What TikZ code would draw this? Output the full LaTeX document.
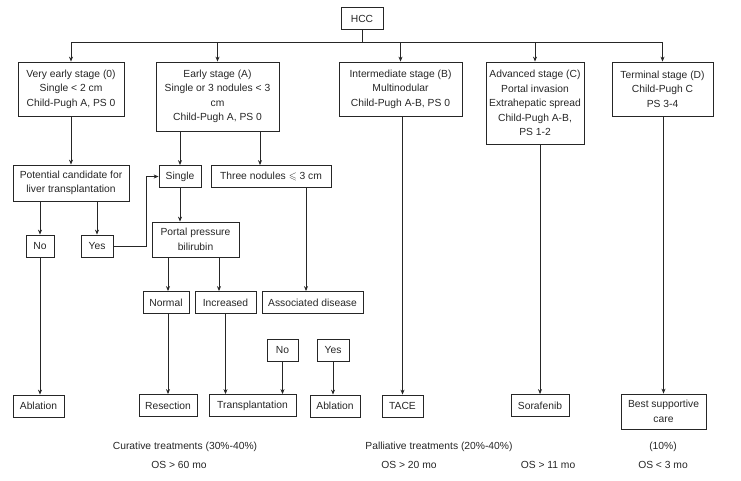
\documentclass[tikz,border=0pt]{standalone}
\usepackage{fontspec}
\usepackage{amssymb}
\setmainfont{Liberation Sans}
\usetikzlibrary{arrows.meta}
\begin{document}
\begin{tikzpicture}[x=1pt, y=-1pt, color=black!85, line width=0.8pt,
        >={Stealth[length=5pt,width=4pt]},
        main/.style = {draw, align=center, font=\fontsize{10.3}{14.4}\selectfont,
            inner xsep=2pt, inner ysep=4pt, minimum height=22pt},
        note/.style = {font=\fontsize{10.3}{14.4}\selectfont}]
        \useasboundingbox (0,0) rectangle (741,480);
        \node[main, minimum width=42pt] (hcc) at (362,18.5) {HCC};
        \node[main, minimum width=106pt, minimum height=54pt] (s0) at (71,89) {Very early stage (0)\\Single < 2 cm\\Child-Pugh A, PS 0};
        \node[main, minimum width=123pt, minimum height=69pt] (sA) at (217.5,96.5) {Early stage (A)\\Single or 3 nodules < 3\\cm\\Child-Pugh A, PS 0};
        \node[main, minimum width=123pt, minimum height=54pt] (sB) at (400.5,89) {Intermediate stage (B)\\Multinodular\\Child-Pugh A-B, PS 0};
        \node[main, minimum width=98pt, minimum height=82pt] (sC) at (535,103) {Advanced stage (C)\\Portal invasion\\Extrahepatic spread\\Child-Pugh A-B,\\PS 1-2};
        \node[main, minimum width=101pt, minimum height=54pt] (sD) at (662.5,89) {Terminal stage (D)\\Child-Pugh C\\PS 3-4};
        \node[main, minimum width=116pt, minimum height=36pt] (cand) at (71,183) {Potential candidate for\\liver transplantation};
        \node[main, minimum width=42pt] (single) at (180,176.5) {Single};
        \node[main, minimum width=120pt] (three) at (271,176.5) {Three nodules $\leqslant$ 3 cm};
        \node[main, minimum width=28pt] (no1) at (40,246) {No};
        \node[main, minimum width=32pt] (yes1) at (97,246) {Yes};
        \node[main, minimum width=87pt, minimum height=35pt] (portal) at (195.5,239.5) {Portal pressure\\bilirubin};
        \node[main, minimum width=46pt] (normal) at (166,302.5) {Normal};
        \node[main, minimum width=61pt] (incr) at (225.5,302.5) {Increased};
        \node[main, minimum width=101pt] (assoc) at (312.5,302.5) {Associated disease};
        \node[main, minimum width=31pt] (no2) at (282.5,350) {No};
        \node[main, minimum width=32pt] (yes2) at (333,350) {Yes};
        \node[main, minimum width=51pt] (abl1) at (38.5,406) {Ablation};
        \node[main, minimum width=58pt] (resec) at (168,405.5) {Resection};
        \node[main, minimum width=87pt] (trans) at (252.5,405.5) {Transplantation};
        \node[main, minimum width=50pt] (abl2) at (335,406) {Ablation};
        \node[main, minimum width=41pt] (tace) at (402.5,406) {TACE};
        \node[main, minimum width=58pt] (sora) at (540,405.5) {Sorafenib};
        \node[main, minimum width=85pt, minimum height=35pt] (bsc) at (663.5,411.5) {Best supportive\\care};
        \node[note] (cur) at (185,447) {Curative treatments (30\%-40\%)};
        \node[note] (os60) at (179,465) {OS > 60 mo};
        \node[note] (pal) at (439,447) {Palliative treatments (20\%-40\%)};
        \node[note] (os20) at (409,465) {OS > 20 mo};
        \node[note] (os11) at (548,465) {OS > 11 mo};
        \node[note] (pct) at (663,447) {(10\%)};
        \node[note] (os3) at (663,465) {OS < 3 mo};
        \coordinate (bus) at (362,42);
        \draw (hcc) -- (bus);
        \draw (bus -| s0) -- (bus -| sD);
        \foreach \s in {s0,sA,sB,sC,sD}
            \draw[->] (bus -| \s) -- (\s);
        \draw[->] (s0.south -| cand) -- (cand);
        \draw[->] (sA.south -| single) -- (single);
        \draw[->] ([xshift=42.5pt]sA.south) -- ([xshift=42.5pt]sA.south |- three.north);
        \draw[->] (cand.south -| no1) -- (no1);
        \draw[->] (cand.south -| yes1) -- (yes1);
        \draw[->] (yes1.east) -- ++(33,0) |- (single.west);
        \draw[->] (single.south) -- (single.south |- portal.north);
        \draw[->] ([xshift=-27.5pt]portal.south) -- ([xshift=-27.5pt]portal.south |- normal.north);
        \draw[->] ([xshift=23.5pt]portal.south) -- ([xshift=23.5pt]portal.south |- incr.north);
        \draw[->] ([xshift=35pt]three.south) -- ([xshift=35pt]three.south |- assoc.north);
        \draw[->] (no1.south) -- (no1.south |- abl1.north);
        \draw[->] (normal.south -| resec) -- (resec);
        \draw[->] (incr.south) -- (incr.south |- trans.north);
        \draw[->] (no2.south) -- (no2.south |- trans.north);
        \draw[->] (yes2.south) -- (yes2.south |- abl2.north);
        \draw[->] (sB.south -| tace) -- (tace);
        \draw[->] (sC.south -| sora) -- (sora);
        \draw[->] (sD.south -| bsc) -- (bsc);
    \end{tikzpicture}
\end{document}
